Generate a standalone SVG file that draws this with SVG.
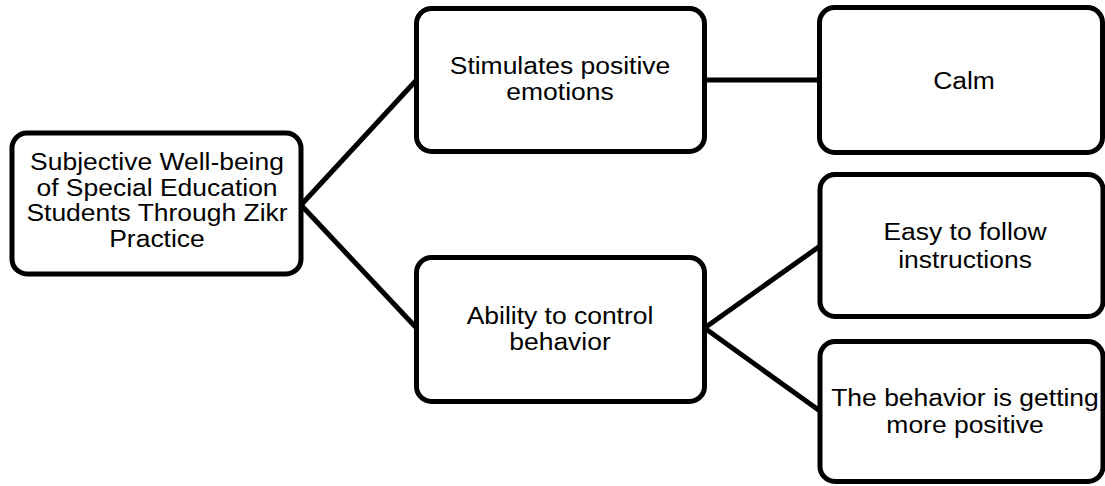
<svg xmlns="http://www.w3.org/2000/svg" width="1105" height="486" viewBox="0 0 1105 486">
<style>
.box{fill:#fff;stroke:#000;stroke-width:5}
.ln{stroke:#000;stroke-width:5;fill:none}
.t{font-family:"Liberation Sans",Arial,sans-serif;font-size:24.5px;fill:#000;text-anchor:middle}
</style>
<rect width="1105" height="486" fill="#fff"/>
<g id="connectors">
<line class="ln" x1="301" y1="205" x2="416.5" y2="80"/>
<line class="ln" x1="301" y1="205" x2="416.5" y2="328"/>
<line class="ln" x1="704.5" y1="80" x2="819.5" y2="80"/>
<line class="ln" x1="704.5" y1="328" x2="820" y2="246"/>
<line class="ln" x1="704.5" y1="328" x2="820" y2="411"/>
</g>
<g id="root">
<rect class="box" x="12" y="133" width="289" height="141" rx="15"/>
<g transform="translate(157,0) scale(1.08,1)">
<text class="t" x="0" y="170">Subjective Well-being</text>
<text class="t" x="0" y="196">of Special Education</text>
<text class="t" x="0" y="221.5">Students Through Zikr</text>
<text class="t" x="0" y="247">Practice</text>
</g>
</g>
<g id="stimulates">
<rect class="box" x="416.5" y="8.5" width="288" height="143" rx="15"/>
<g transform="translate(560,0) scale(1.08,1)">
<text class="t" x="0" y="74">Stimulates positive</text>
<text class="t" x="0" y="100">emotions</text>
</g>
</g>
<g id="ability">
<rect class="box" x="416.5" y="257.5" width="288" height="144" rx="15"/>
<g transform="translate(560,0) scale(1.08,1)">
<text class="t" x="0" y="324">Ability to control</text>
<text class="t" x="0" y="350.5">behavior</text>
</g>
</g>
<g id="calm">
<rect class="box" x="819.5" y="7.5" width="283" height="145" rx="15"/>
<g transform="translate(964,0) scale(1.08,1)">
<text class="t" x="0" y="89">Calm</text>
</g>
</g>
<g id="easy">
<rect class="box" x="820" y="174.5" width="283" height="142" rx="15"/>
<g transform="translate(965,0) scale(1.08,1)">
<text class="t" x="0" y="240.5">Easy to follow</text>
<text class="t" x="0" y="268">instructions</text>
</g>
</g>
<g id="behavior">
<rect class="box" x="820" y="341.5" width="283" height="140" rx="15"/>
<g transform="translate(965,0) scale(1.08,1)">
<text class="t" x="0" y="406.5">The behavior is getting</text>
<text class="t" x="0" y="433">more positive</text>
</g>
</g>
</svg>
